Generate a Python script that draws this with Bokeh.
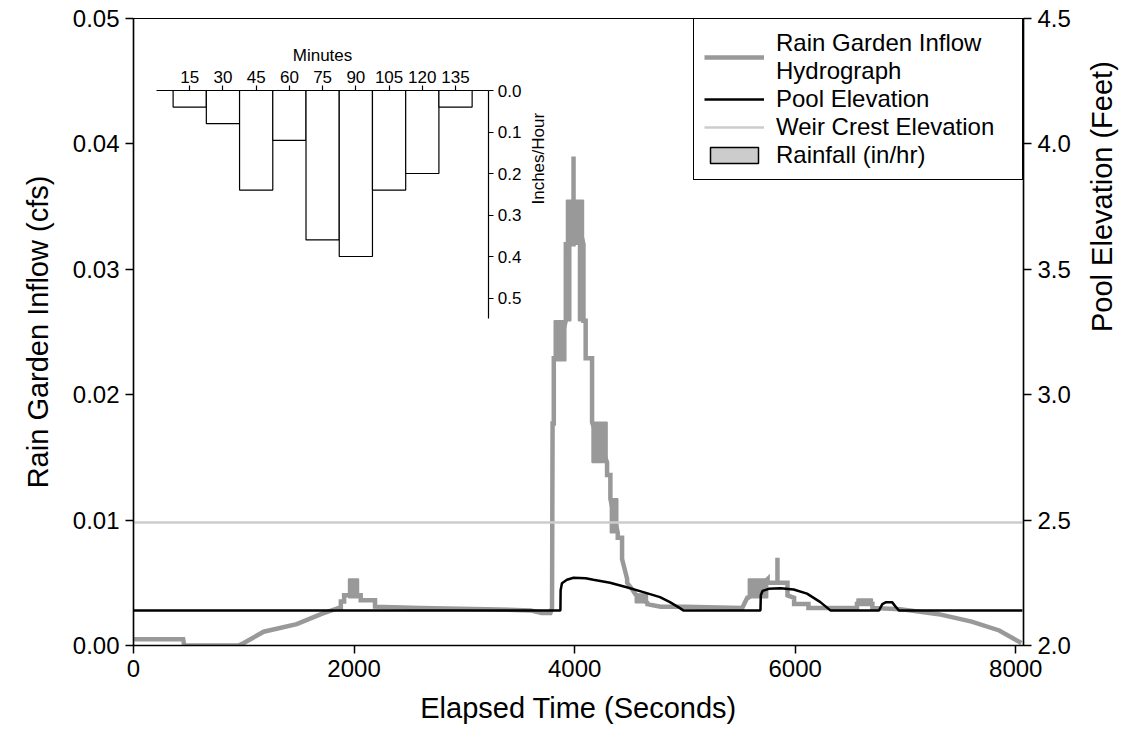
import math
from bokeh.plotting import figure
from bokeh.models import (Range1d, LinearAxis, FixedTicker, NumeralTickFormatter,
                          Legend, LegendItem)
from bokeh.embed import file_html
from bokeh.resources import INLINE

FONT = "Liberation Sans"

# ---------------- data ----------------
# Rain garden inflow hydrograph (seconds, cfs) – step-like trace
hydro_t = [0, 450, 460, 950, 1000, 1180, 1480, 1700, 1860, 1880, 1880, 1910, 1910, 2060, 2060,
           2190, 2190, 2600, 3200, 3600, 3700, 3780, 3795, 3800, 3811, 3811, 3830, 3920, 3920,
           3990, 3990, 3990, 4080, 4080, 4100, 4100, 4158, 4158, 4294, 4294, 4324, 4324, 4391,
           4391, 4430, 4430, 4476, 4476, 4520, 4550, 4660, 4660, 4780, 5000, 5520, 5565, 5575,
           5750, 5750, 5839, 5839, 5839, 5930, 5930, 5990, 5990, 6120, 6120, 6560, 6560, 6700,
           6700, 6950, 7300, 7600, 7850, 8050]
hydro_q = [0.0005, 0.0005, 0.0, 0.0, 0.0002, 0.0011, 0.0017, 0.0025, 0.0030, 0.0030, 0.0035,
           0.0035, 0.0040, 0.0040, 0.0036, 0.0036, 0.0031, 0.0030, 0.0029, 0.0028, 0.0026,
           0.0026, 0.0030, 0.0177, 0.0177, 0.0229, 0.0229, 0.0259, 0.0320, 0.0320, 0.0390,
           0.0355, 0.0320, 0.0259, 0.0259, 0.0229, 0.0229, 0.0178, 0.0146, 0.0136, 0.0136,
           0.0117, 0.0090, 0.0086, 0.0086, 0.0069, 0.0053, 0.0050, 0.0045, 0.0041, 0.0034,
           0.0033, 0.0031, 0.0031, 0.0030, 0.0038, 0.0038, 0.0053, 0.0050, 0.0050, 0.0070,
           0.0050, 0.0050, 0.0040, 0.0038, 0.0033, 0.0033, 0.0030, 0.0030, 0.0033, 0.0033,
           0.0030, 0.0029, 0.0025, 0.0019, 0.0012, 0.0002]

# Rapid-oscillation bands of the hydrograph (drawn as solid blocks in the picture)
band_t0 = [1950, 3815, 3920, 3926, 4035, 4158, 4324, 4550, 5575, 6560]
band_t1 = [2040, 3920, 3965, 4080, 4080, 4294, 4391, 4660, 5750, 6700]
band_lo = [0.0038, 0.0227, 0.0259, 0.0320, 0.0259, 0.0146, 0.0090, 0.0034, 0.0038, 0.0033]
band_hi = [0.0053, 0.0259, 0.0320, 0.0355, 0.0320, 0.0178, 0.0117, 0.0041, 0.0053, 0.0037]

# Pool elevation (seconds, feet)
pool_t = [0, 3871, 3873, 3885, 3930, 3990, 4100, 4170, 4321, 4472, 4623, 4774, 4864, 4940,
          4985, 5685, 5688, 5705, 5760, 5866, 5986, 6107, 6228, 6319, 6760, 6790, 6820, 6880,
          6910, 6940, 8060]
pool_ft = [2.14, 2.14, 2.22, 2.248, 2.262, 2.270, 2.268, 2.262, 2.250, 2.232, 2.213, 2.193,
           2.173, 2.153, 2.14, 2.14, 2.200, 2.218, 2.226, 2.228, 2.223, 2.207, 2.173, 2.14,
           2.14, 2.165, 2.172, 2.172, 2.155, 2.14, 2.14]

weir_ft = 2.49

# Rainfall hyetograph (minutes, in/hr)
rain_min = [15, 30, 45, 60, 75, 90, 105, 120, 135]
rain_inhr = [0.04, 0.08, 0.24, 0.12, 0.36, 0.40, 0.24, 0.20, 0.04]
rain_width = 15

# axes
x_start, x_end = 0, 8070
cfs_start, cfs_end = 0.0, 0.05
ft_start, ft_end = 2.0, 4.5
x_ticks = [0, 2000, 4000, 6000, 8000]
cfs_ticks = [0.0, 0.01, 0.02, 0.03, 0.04, 0.05]
ft_ticks = [2.0, 2.5, 3.0, 3.5, 4.0, 4.5]
min_ticks = [15, 30, 45, 60, 75, 90, 105, 120, 135]
min_bounds = (0, 150)
inhr_ticks = [0.0, 0.1, 0.2, 0.3, 0.4, 0.5]
inhr_bounds = (0, 0.55)

# ---------------- layout (figure pixels) ----------------
W, H = 1137, 743
FR_L, FR_R, FR_T, FR_B = 133, 1023, 18, 645          # frame edges
INSET_X0, INSET_PPM = 156.0, 2.215                     # px of 0 min, px per minute
INSET_Y0, INSET_PPI = 90.0, 415.0                      # px of 0 in/hr, px per in/hr

p = figure(width=W, height=H, output_backend="svg", toolbar_location=None,
           x_range=Range1d(x_start, x_end), y_range=Range1d(cfs_start, cfs_end),
           min_border_left=FR_L, min_border_top=FR_T,
           min_border_right=W - FR_R, min_border_bottom=H - FR_B)
p.extra_y_ranges = {
    "ft": Range1d(ft_start, ft_end),
    "rain": Range1d(start=(FR_B - INSET_Y0) / INSET_PPI, end=(FR_T - INSET_Y0) / INSET_PPI),
}
p.extra_x_ranges = {
    "min": Range1d(start=(FR_L - INSET_X0) / INSET_PPM, end=(FR_R - INSET_X0) / INSET_PPM),
}
p.xgrid.visible = False
p.ygrid.visible = False
p.outline_line_color = "black"
p.outline_line_width = 1.2
p.background_fill_color = "white"
p.border_fill_color = "white"


def style_axis(ax, tick_size="24px", label_size="29px", standoff=10, tick_len=8, lw=1.5):
    ax.major_label_text_font = FONT
    ax.major_label_text_font_size = tick_size
    ax.major_label_text_color = "black"
    ax.axis_label_text_font = FONT
    ax.axis_label_text_font_size = label_size
    ax.axis_label_text_font_style = "normal"
    ax.axis_label_text_color = "black"
    ax.axis_label_standoff = standoff
    ax.major_tick_out = tick_len
    ax.major_tick_in = 0
    ax.minor_tick_out = 0
    ax.minor_tick_in = 0
    ax.axis_line_color = "black"
    ax.axis_line_width = lw
    ax.major_tick_line_color = "black"
    ax.major_tick_line_width = lw
    ax.major_label_standoff = 6


xa = p.xaxis[0]
xa.ticker = FixedTicker(ticks=x_ticks)
xa.axis_label = "Elapsed Time (Seconds)"
style_axis(xa, standoff=12)

ya = p.yaxis[0]
ya.ticker = FixedTicker(ticks=cfs_ticks)
ya.formatter = NumeralTickFormatter(format="0.00")
ya.axis_label = "Rain Garden Inflow (cfs)"
style_axis(ya, standoff=16)

ra = LinearAxis(y_range_name="ft", ticker=FixedTicker(ticks=ft_ticks),
                formatter=NumeralTickFormatter(format="0.0"),
                axis_label="Pool Elevation (Feet)")
style_axis(ra, standoff=28)
try:
    ra.axis_label_orientation = math.pi / 2
except Exception:
    pass
p.add_layout(ra, "right")

# ---------------- main series ----------------
grey = "#999999"
r_hydro = p.line(hydro_t, hydro_q, line_color=grey, line_width=4.5, line_join="miter")
p.quad(left=band_t0, right=band_t1, bottom=band_lo, top=band_hi,
       fill_color=grey, line_color=grey, line_width=1.5)
r_weir = p.line([x_start, x_end], [weir_ft, weir_ft], y_range_name="ft",
                line_color="#cccccc", line_width=2.5)
r_pool = p.line(pool_t, pool_ft, y_range_name="ft", line_color="black", line_width=2.5)

# ---------------- rainfall inset ----------------
p.vbar(x=rain_min, width=rain_width, top=[0] * len(rain_min), bottom=rain_inhr,
       x_range_name="min", y_range_name="rain",
       fill_color="white", line_color="black", line_width=1.2)

ta = LinearAxis(x_range_name="min", y_range_name="rain", fixed_location=0,
                bounds=min_bounds, ticker=FixedTicker(ticks=min_ticks),
                axis_label="Minutes")
style_axis(ta, tick_size="17px", label_size="17px", standoff=3, tick_len=5, lw=1.2)
ta.major_label_standoff = 3
p.add_layout(ta, "above")

ia = LinearAxis(x_range_name="min", y_range_name="rain", fixed_location=min_bounds[1],
                bounds=inhr_bounds, ticker=FixedTicker(ticks=inhr_ticks),
                formatter=NumeralTickFormatter(format="0.0"),
                axis_label="Inches/Hour")
style_axis(ia, tick_size="17px", label_size="17px", standoff=14, tick_len=5, lw=1.2)
ia.major_label_standoff = 4
try:
    ia.axis_label_orientation = math.pi / 2
except Exception:
    pass
p.add_layout(ia, "right")

# legend swatch for rainfall (a single NaN row: nothing is drawn in the plot)
nan = float("nan")
r_rain_leg = p.quad(left=[nan], right=[nan], top=[nan], bottom=[nan], fill_color="#cccccc",
                    line_color="black", line_width=1.5)

legend = Legend(items=[
    LegendItem(label="Rain Garden Inflow\nHydrograph", renderers=[r_hydro]),
    LegendItem(label="Pool Elevation", renderers=[r_pool]),
    LegendItem(label="Weir Crest Elevation", renderers=[r_weir]),
    LegendItem(label="Rainfall (in/hr)", renderers=[r_rain_leg]),
], location="top_right")
legend.margin = 0
legend.padding = 10
legend.spacing = 0
legend.glyph_width = 60
legend.glyph_height = 20
legend.label_standoff = 12
legend.label_width = 236
legend.label_text_font = FONT
legend.label_text_font_size = "24px"
legend.label_text_color = "black"
legend.border_line_color = "black"
legend.border_line_width = 1.5
legend.border_line_alpha = 1.0
legend.background_fill_alpha = 1.0
p.add_layout(legend, "center")

open("out.html", "w").write(file_html(p, INLINE))
